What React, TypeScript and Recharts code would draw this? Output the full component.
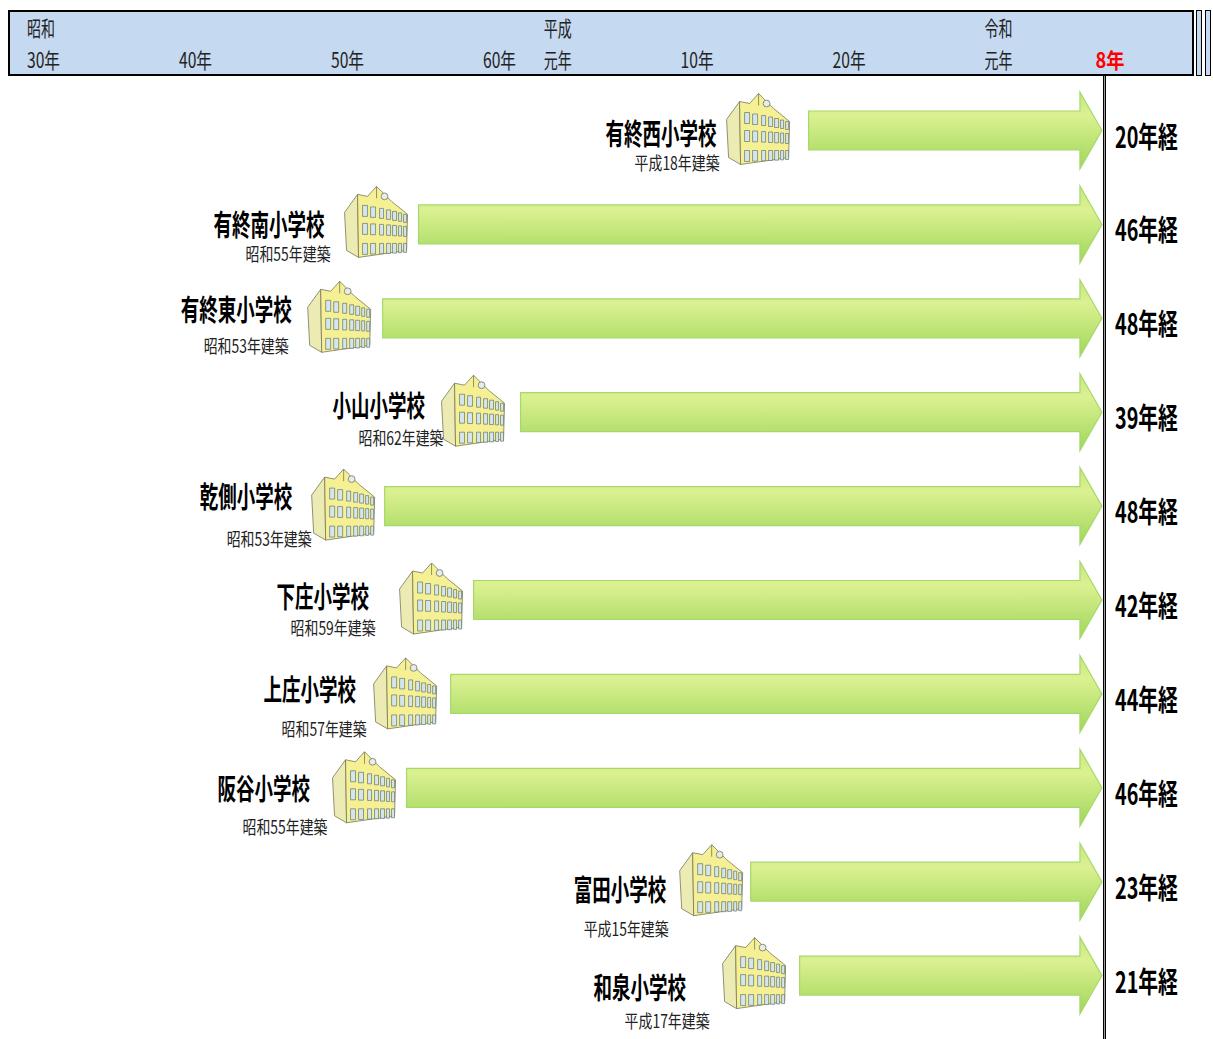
import { BarChart, Bar, XAxis, YAxis, ReferenceLine } from "recharts";

const WIDTH = 1213;
const HEIGHT = 1039;
const FONT = '"Noto Sans CJK JP", "Noto Sans", sans-serif';

// timeline header: tick position in calendar years
const TICK_YEARS = [1955, 1965, 1975, 1985, 1989, 1998, 2008, 2018, 2025.3];
const TICK_LABELS = ["30年", "40年", "50年", "60年", "元年", "10年", "20年", "元年", "8年"];
const ERA_LABELS = ["昭和", "", "", "", "平成", "", "", "令和", ""];

const SCHOOLS = [
  "有終西小学校",
  "有終南小学校",
  "有終東小学校",
  "小山小学校",
  "乾側小学校",
  "下庄小学校",
  "上庄小学校",
  "阪谷小学校",
  "富田小学校",
  "和泉小学校",
];
const BUILT = [
  "平成18年建築",
  "昭和55年建築",
  "昭和53年建築",
  "昭和62年建築",
  "昭和53年建築",
  "昭和59年建築",
  "昭和57年建築",
  "昭和55年建築",
  "平成15年建築",
  "平成17年建築",
];
const ELAPSED = [20, 46, 48, 39, 48, 42, 44, 46, 23, 21];
// where each arrow starts / ends on the year axis
const ARROW_START = [2006.42, 1980.76, 1978.4, 1987.47, 1978.53, 1984.38, 1982.87, 1979.97, 2002.61, 2005.83];
const ARROW_END = 2025.72;
const TODAY = 2025.888;

const rows = SCHOOLS.map((name, i) => ({
  name,
  built: BUILT[i],
  elapsed: ELAPSED[i],
  span: [ARROW_START[i], ARROW_END],
}));

// the labels sit by hand in the original, so offsets differ per row
// [building dx, building dy, name dx, name dy, built dx, built dy], relative to arrow start + row centre
const OFFSETS = [
  [83, -37, 203, 1, 174, 31],
  [75, -38, 205, -1, 173, 29],
  [76, -37, 202, -10, 179, 27],
  [80, -37, 188, -8, 162, 25],
  [74, -37, 185, -11, 158, 32],
  [75, -37, 197, -5, 183, 27],
  [78, -36, 187, -6, 169, 34],
  [75, -36, 189, -1, 164, 38],
  [72, -37, 177, 6, 167, 46],
  [78, -38, 206, 10, 175, 44],
];

const WINDOW_X = [19, 27, 36, 43, 49, 55, 60];
const WINDOW_W = [5, 5, 4, 4, 4, 3, 3];

function School({ x, y }: { x: number; y: number }) {
  return (
    <g transform={`translate(${x},${y})`} stroke="#77775a" strokeWidth={0.8} strokeLinejoin="round">
      <polygon points="1,26 14,8 15,71 3,64" fill="#ecebb4" />
      <polygon points="14,8 24,10 33,0 48,15 64,28 63,64 15,71" fill="#f6f094" />
      <line x1={33} y1={0} x2={33} y2={12} />
      <circle cx={41} cy={10} r={3.4} fill="#e4ecec" />
      {WINDOW_X.map((wx, c) =>
        [0, 1, 2].map((r) => {
          const t = c / 6;
          const top = [19 + t * 9, 37 + t * 3, 57][r];
          const h = [11 - t * 3, 11 - t * 1, 11 - t * 2][r];
          return (
            <rect
              key={`${c}-${r}`}
              x={wx}
              y={top}
              width={WINDOW_W[c]}
              height={h}
              fill="#d4e6ec"
              stroke="#66756a"
              strokeWidth={0.7}
            />
          );
        })
      )}
    </g>
  );
}

// bar shape: block arrow plus everything hung on it
function ArrowRow(props: any) {
  const { x, y, width, height, payload, index } = props;
  const [bldX, bldY, nameX, nameY, builtX, builtY] = OFFSETS[index];
  const cy = y + height / 2;
  const right = x + width;
  const shaft = 19.5;
  const head = 22;
  const pts = [
    [x, cy - shaft],
    [right - head, cy - shaft],
    [right - head, y],
    [right, cy],
    [right - head, y + height],
    [right - head, cy + shaft],
    [x, cy + shaft],
  ]
    .map((p) => p.join(","))
    .join(" ");
  return (
    <g fontFamily={FONT}>
      <polygon points={pts} fill="url(#arrowFill)" stroke="#a6d96b" strokeWidth={1.2} />
      <School x={x - bldX} y={cy + bldY} />
      <text
        x={x - nameX}
        y={cy + nameY}
        fontSize={29}
        fontWeight={700}
        fill="#000"
        dominantBaseline="central"
        textLength={payload.name.length * 18.5}
        lengthAdjust="spacingAndGlyphs"
      >
        {payload.name}
      </text>
      <text
        x={x - builtX}
        y={cy + builtY}
        fontSize={18}
        fill="#222"
        dominantBaseline="central"
        textLength={85}
        lengthAdjust="spacingAndGlyphs"
      >
        {payload.built}
      </text>
      <text
        x={right + 13}
        y={cy + 4}
        fontSize={29}
        fontWeight={700}
        fill="#000"
        dominantBaseline="central"
        textLength={63}
        lengthAdjust="spacingAndGlyphs"
      >
        {`${payload.elapsed}年経`}
      </text>
    </g>
  );
}

function YearTick(props: any) {
  const { x, index } = props;
  const label = TICK_LABELS[index];
  const era = ERA_LABELS[index];
  const isNow = index === TICK_LABELS.length - 1;
  // digits are narrower than kanji
  const len = [...label].reduce((sum, ch) => sum + (/\d/.test(ch) ? 9.5 : 14), 0);
  return (
    <g fontFamily={FONT} fontSize={21} fill="#222">
      {era && (
        <text x={x} y={27} dominantBaseline="central" textLength={28} lengthAdjust="spacingAndGlyphs">
          {era}
        </text>
      )}
      <text
        x={x}
        y={59}
        dominantBaseline="central"
        textLength={isNow ? 29 : len}
        lengthAdjust="spacingAndGlyphs"
        fill={isNow ? "#ff0000" : "#222"}
        fontWeight={isNow ? 700 : 400}
      >
        {label}
      </text>
    </g>
  );
}

const bandStyle = {
  position: "absolute",
  boxSizing: "border-box",
  background: "#c5d9f1",
  borderStyle: "solid",
  borderColor: "#000",
  top: 10,
  height: 66,
} as const;

export default function App() {
  return (
    <div style={{ position: "absolute", left: 0, top: 0, width: WIDTH, height: HEIGHT, overflow: "hidden" }}>
      <div style={{ ...bandStyle, borderWidth: 2, left: 8, width: 1186 }} />
      <div style={{ ...bandStyle, borderWidth: 1.5, left: 1196, width: 6 }} />
      <div style={{ ...bandStyle, borderWidth: 1.5, left: 1205, width: 6 }} />
      <div style={{ position: "absolute", left: 0, top: 0 }}>
        <BarChart
          width={WIDTH}
          height={HEIGHT}
          data={rows}
          layout="vertical"
          margin={{ top: 0, right: 46, bottom: 0, left: 27 }}
          barSize={77}
        >
          <defs>
            <linearGradient id="arrowFill" x1="0" y1="0" x2="0" y2="1">
              <stop offset="0%" stopColor="#c6e67e" />
              <stop offset="30%" stopColor="#dcf192" />
              <stop offset="100%" stopColor="#9fd65a" />
            </linearGradient>
          </defs>
          <XAxis
            type="number"
            orientation="top"
            height={76}
            domain={[1955, 2030]}
            ticks={TICK_YEARS}
            interval={0}
            axisLine={false}
            tickLine={false}
            tick={<YearTick />}
          />
          <YAxis type="category" dataKey="name" hide width={0} padding={{ top: 8, bottom: 16 }} />
          <ReferenceLine x={TODAY} stroke="#000" strokeWidth={3} />
          <ReferenceLine x={TODAY} stroke="#a0a0a0" strokeWidth={1} />
          <Bar dataKey="span" shape={<ArrowRow />} isAnimationActive={false} />
        </BarChart>
      </div>
    </div>
  );
}
